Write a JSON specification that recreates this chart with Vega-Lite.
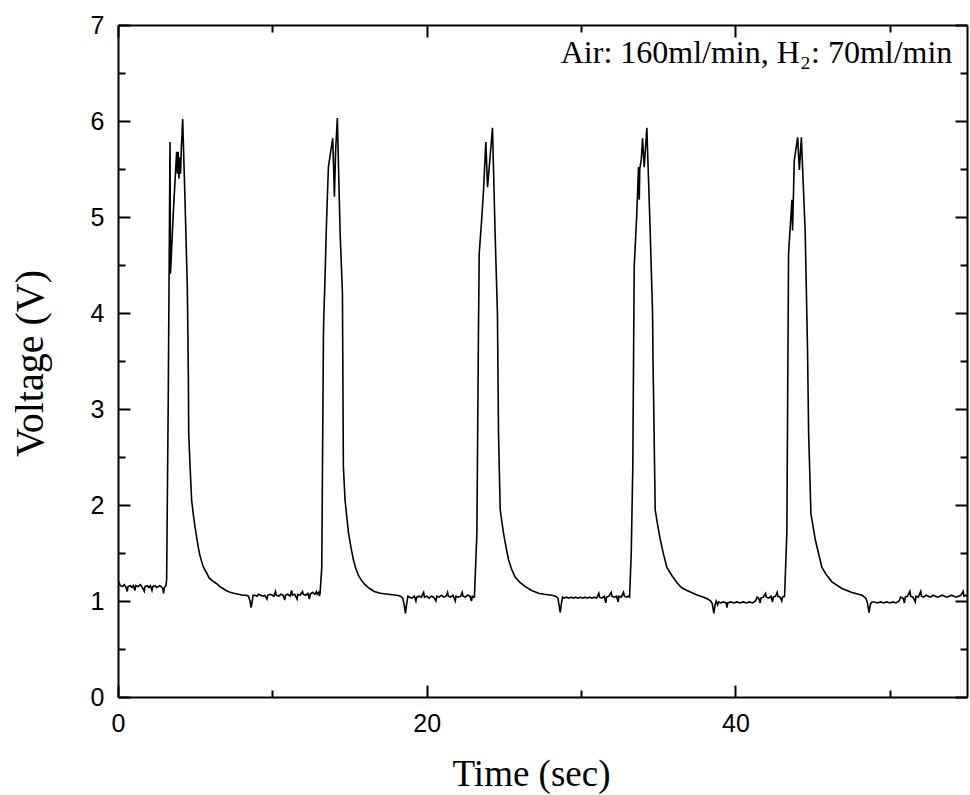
{
  "$schema": "https://vega.github.io/schema/vega-lite/v6.json",
  "autosize": "none",
  "width": 849,
  "height": 672,
  "padding": {"left": 118, "top": 25, "right": 3, "bottom": 98},
  "background": "white",
  "config": {"view": {"stroke": null}},
  "resolve": {"axis": {"x": "independent", "y": "independent"}},
  "datasets": {
    "note": [{"t": 54.05, "v": 6.6, "label": "Air: 160ml/min, H₂: 70ml/min"}]
  },
  "layer": [
    {
      "data": {"values": [
        {"t":0,"v":1.21},{"t":0.05,"v":1.2},{"t":0.15,"v":1.16},{"t":0.3,"v":1.15},{"t":0.4,"v":1.17},{"t":0.5,"v":1.15},{"t":0.6,"v":1.1},{"t":0.65,"v":1.15},{"t":0.8,"v":1.16},{"t":0.9,"v":1.14},{"t":1.0,"v":1.16},{"t":1.1,"v":1.11},{"t":1.15,"v":1.16},{"t":1.3,"v":1.15},{"t":1.45,"v":1.17},{"t":1.55,"v":1.15},{"t":1.7,"v":1.1},{"t":1.75,"v":1.15},{"t":1.9,"v":1.16},{"t":2.0,"v":1.14},{"t":2.1,"v":1.16},{"t":2.2,"v":1.11},{"t":2.25,"v":1.15},{"t":2.4,"v":1.16},{"t":2.5,"v":1.14},{"t":2.6,"v":1.15},{"t":2.7,"v":1.16},{"t":2.8,"v":1.15},{"t":2.9,"v":1.13},{"t":2.95,"v":1.08},{"t":3.0,"v":1.14},{"t":3.1,"v":1.16},
        {"t":3.15,"v":1.22},{"t":3.25,"v":3.0},{"t":3.37,"v":5.78},{"t":3.4,"v":4.41},{"t":3.6,"v":5.1},{"t":3.8,"v":5.68},{"t":3.85,"v":5.45},{"t":3.9,"v":5.68},{"t":3.95,"v":5.4},{"t":4.0,"v":5.62},{"t":4.05,"v":5.45},{"t":4.1,"v":5.7},{"t":4.19,"v":6.02},{"t":4.34,"v":5.18},{"t":4.49,"v":4.27},{"t":4.52,"v":3.9},{"t":4.56,"v":3.3},{"t":4.58,"v":2.75},{"t":4.67,"v":2.4},{"t":4.77,"v":2.05},{"t":4.88,"v":1.9},{"t":4.99,"v":1.77},{"t":5.1,"v":1.66},{"t":5.2,"v":1.56},{"t":5.3,"v":1.48},{"t":5.42,"v":1.41},{"t":5.52,"v":1.36},{"t":5.64,"v":1.32},{"t":5.75,"v":1.29},{"t":5.9,"v":1.24},{"t":6.05,"v":1.22},{"t":6.2,"v":1.2},{"t":6.4,"v":1.18},{"t":6.6,"v":1.15},{"t":6.8,"v":1.13},{"t":7.0,"v":1.11},{"t":7.26,"v":1.09},{"t":7.5,"v":1.08},{"t":7.8,"v":1.07},{"t":8.1,"v":1.06},{"t":8.3,"v":1.06},{"t":8.45,"v":1.05},{"t":8.55,"v":1.0},{"t":8.62,"v":0.93},{"t":8.7,"v":1.0},{"t":8.75,"v":1.06},
        {"t":8.85,"v":1.06},{"t":9.0,"v":1.05},{"t":9.1,"v":1.07},{"t":9.25,"v":1.06},{"t":9.4,"v":1.05},{"t":9.5,"v":1.06},{"t":9.65,"v":1.02},{"t":9.7,"v":1.06},{"t":9.85,"v":1.07},{"t":10.0,"v":1.06},{"t":10.1,"v":1.05},{"t":10.2,"v":1.1},{"t":10.25,"v":1.06},{"t":10.4,"v":1.05},{"t":10.55,"v":1.07},{"t":10.7,"v":1.06},{"t":10.8,"v":1.01},{"t":10.85,"v":1.06},{"t":11.0,"v":1.07},{"t":11.15,"v":1.05},{"t":11.25,"v":1.11},{"t":11.3,"v":1.06},{"t":11.45,"v":1.07},{"t":11.6,"v":1.02},{"t":11.65,"v":1.07},{"t":11.8,"v":1.06},{"t":11.95,"v":1.1},{"t":12.0,"v":1.07},{"t":12.15,"v":1.06},{"t":12.3,"v":1.08},{"t":12.4,"v":1.02},{"t":12.45,"v":1.07},{"t":12.6,"v":1.09},{"t":12.75,"v":1.07},{"t":12.85,"v":1.1},{"t":12.9,"v":1.07},{"t":13.0,"v":1.09},{"t":13.05,"v":1.05},
        {"t":13.09,"v":1.08},{"t":13.2,"v":1.35},{"t":13.31,"v":3.79},{"t":13.33,"v":3.95},{"t":13.4,"v":4.3},{"t":13.5,"v":4.9},{"t":13.63,"v":5.52},{"t":13.75,"v":5.65},{"t":13.91,"v":5.82},{"t":13.97,"v":5.5},{"t":14.02,"v":5.21},{"t":14.1,"v":5.7},{"t":14.21,"v":6.03},{"t":14.39,"v":4.83},{"t":14.54,"v":4.21},{"t":14.56,"v":3.6},{"t":14.6,"v":2.4},{"t":14.71,"v":2.05},{"t":14.82,"v":1.88},{"t":14.93,"v":1.71},{"t":15.1,"v":1.55},{"t":15.25,"v":1.43},{"t":15.4,"v":1.34},{"t":15.57,"v":1.27},{"t":15.75,"v":1.22},{"t":16.0,"v":1.17},{"t":16.3,"v":1.13},{"t":16.6,"v":1.1},{"t":17.0,"v":1.08},{"t":17.5,"v":1.07},{"t":18.06,"v":1.06},{"t":18.3,"v":1.05},{"t":18.45,"v":1.03},{"t":18.55,"v":0.95},{"t":18.62,"v":0.87},{"t":18.7,"v":0.97},{"t":18.78,"v":1.05},
        {"t":18.9,"v":1.04},{"t":19.05,"v":1.03},{"t":19.2,"v":1.05},{"t":19.3,"v":1.0},{"t":19.35,"v":1.04},{"t":19.5,"v":1.05},{"t":19.65,"v":1.04},{"t":19.8,"v":1.09},{"t":19.85,"v":1.04},{"t":20.0,"v":1.05},{"t":20.15,"v":1.03},{"t":20.3,"v":1.05},{"t":20.45,"v":1.04},{"t":20.6,"v":1.0},{"t":20.65,"v":1.05},{"t":20.8,"v":1.04},{"t":20.95,"v":1.06},{"t":21.1,"v":1.04},{"t":21.25,"v":1.05},{"t":21.35,"v":1.09},{"t":21.4,"v":1.05},{"t":21.55,"v":1.04},{"t":21.7,"v":1.06},{"t":21.85,"v":1.0},{"t":21.9,"v":1.05},{"t":22.05,"v":1.04},{"t":22.2,"v":1.05},{"t":22.3,"v":1.09},{"t":22.35,"v":1.05},{"t":22.5,"v":1.04},{"t":22.65,"v":1.06},{"t":22.8,"v":1.05},{"t":22.9,"v":1.0},{"t":22.95,"v":1.05},{"t":23.05,"v":1.04},
        {"t":23.09,"v":1.04},{"t":23.25,"v":1.71},{"t":23.35,"v":3.79},{"t":23.4,"v":4.62},{"t":23.55,"v":4.95},{"t":23.68,"v":5.28},{"t":23.83,"v":5.78},{"t":23.94,"v":5.31},{"t":24.05,"v":5.52},{"t":24.26,"v":5.93},{"t":24.43,"v":4.83},{"t":24.58,"v":4.0},{"t":24.62,"v":3.3},{"t":24.65,"v":2.75},{"t":24.76,"v":1.95},{"t":24.97,"v":1.71},{"t":25.15,"v":1.55},{"t":25.3,"v":1.43},{"t":25.5,"v":1.33},{"t":25.73,"v":1.25},{"t":26.0,"v":1.2},{"t":26.38,"v":1.15},{"t":26.8,"v":1.11},{"t":27.24,"v":1.08},{"t":27.6,"v":1.07},{"t":28.1,"v":1.06},{"t":28.35,"v":1.05},{"t":28.5,"v":1.03},{"t":28.58,"v":0.95},{"t":28.65,"v":0.88},{"t":28.72,"v":0.97},{"t":28.8,"v":1.04},
        {"t":28.9,"v":1.03},{"t":29.05,"v":1.04},{"t":29.2,"v":1.03},{"t":29.35,"v":1.04},{"t":29.5,"v":1.03},{"t":29.65,"v":1.04},{"t":29.8,"v":1.03},{"t":29.95,"v":1.04},{"t":30.1,"v":1.03},{"t":30.25,"v":1.04},{"t":30.4,"v":1.03},{"t":30.55,"v":1.04},{"t":30.7,"v":1.03},{"t":30.85,"v":1.04},{"t":31.0,"v":1.03},{"t":31.15,"v":1.08},{"t":31.2,"v":1.04},{"t":31.35,"v":1.03},{"t":31.5,"v":1.05},{"t":31.6,"v":0.98},{"t":31.65,"v":1.04},{"t":31.8,"v":1.05},{"t":31.95,"v":1.09},{"t":32.0,"v":1.05},{"t":32.15,"v":1.04},{"t":32.3,"v":1.05},{"t":32.4,"v":0.99},{"t":32.45,"v":1.05},{"t":32.6,"v":1.04},{"t":32.75,"v":1.09},{"t":32.8,"v":1.05},{"t":32.95,"v":1.04},{"t":33.05,"v":1.05},
        {"t":33.14,"v":1.04},{"t":33.25,"v":1.5},{"t":33.35,"v":2.4},{"t":33.44,"v":4.48},{"t":33.6,"v":5.0},{"t":33.72,"v":5.52},{"t":33.77,"v":5.18},{"t":33.8,"v":5.5},{"t":33.9,"v":5.6},{"t":33.98,"v":5.82},{"t":34.09,"v":5.52},{"t":34.26,"v":5.93},{"t":34.48,"v":4.83},{"t":34.63,"v":4.0},{"t":34.66,"v":3.5},{"t":34.7,"v":3.09},{"t":34.8,"v":1.95},{"t":34.95,"v":1.8},{"t":35.13,"v":1.64},{"t":35.35,"v":1.48},{"t":35.56,"v":1.35},{"t":35.9,"v":1.26},{"t":36.21,"v":1.19},{"t":36.5,"v":1.14},{"t":36.86,"v":1.11},{"t":37.4,"v":1.07},{"t":37.93,"v":1.04},{"t":38.2,"v":1.02},{"t":38.4,"v":1.0},{"t":38.5,"v":0.97},{"t":38.6,"v":0.87},{"t":38.68,"v":0.96},{"t":38.75,"v":1.0},{"t":38.85,"v":0.96},{"t":38.9,"v":0.99},
        {"t":39.05,"v":0.98},{"t":39.2,"v":0.99},{"t":39.4,"v":0.98},{"t":39.45,"v":0.93},{"t":39.5,"v":0.98},{"t":39.7,"v":0.99},{"t":39.9,"v":0.98},{"t":40.1,"v":0.99},{"t":40.3,"v":0.98},{"t":40.5,"v":0.99},{"t":40.7,"v":0.98},{"t":40.9,"v":0.99},{"t":41.1,"v":0.98},{"t":41.3,"v":1.0},{"t":41.4,"v":1.04},{"t":41.5,"v":1.03},{"t":41.6,"v":0.98},{"t":41.65,"v":1.03},{"t":41.8,"v":1.04},{"t":41.95,"v":1.08},{"t":42.0,"v":1.04},{"t":42.15,"v":1.03},{"t":42.3,"v":1.05},{"t":42.4,"v":0.99},{"t":42.45,"v":1.04},{"t":42.6,"v":1.05},{"t":42.7,"v":1.09},{"t":42.75,"v":1.05},{"t":42.9,"v":1.04},{"t":43.0,"v":1.0},{"t":43.05,"v":1.04},{"t":43.15,"v":1.05},
        {"t":43.18,"v":1.04},{"t":43.33,"v":1.71},{"t":43.44,"v":4.62},{"t":43.55,"v":4.9},{"t":43.66,"v":5.18},{"t":43.7,"v":4.86},{"t":43.81,"v":5.59},{"t":44.03,"v":5.83},{"t":44.14,"v":5.49},{"t":44.27,"v":5.83},{"t":44.52,"v":4.83},{"t":44.67,"v":3.61},{"t":44.74,"v":2.75},{"t":44.89,"v":1.91},{"t":45.17,"v":1.64},{"t":45.6,"v":1.35},{"t":45.9,"v":1.27},{"t":46.25,"v":1.2},{"t":46.9,"v":1.13},{"t":47.5,"v":1.09},{"t":48.2,"v":1.06},{"t":48.45,"v":1.03},{"t":48.55,"v":0.98},{"t":48.65,"v":0.88},{"t":48.75,"v":0.97},{"t":48.85,"v":0.99},
        {"t":49.0,"v":0.99},{"t":49.2,"v":0.98},{"t":49.4,"v":0.99},{"t":49.6,"v":0.98},{"t":49.8,"v":0.99},{"t":50.0,"v":0.98},{"t":50.2,"v":0.99},{"t":50.4,"v":0.98},{"t":50.6,"v":1.0},{"t":50.7,"v":1.04},{"t":50.85,"v":1.03},{"t":50.95,"v":0.98},{"t":51.0,"v":1.04},{"t":51.15,"v":1.05},{"t":51.3,"v":1.1},{"t":51.35,"v":1.05},{"t":51.5,"v":1.04},{"t":51.65,"v":0.99},{"t":51.7,"v":1.05},{"t":51.85,"v":1.04},{"t":52.0,"v":1.1},{"t":52.05,"v":1.05},{"t":52.2,"v":1.04},{"t":52.35,"v":1.06},{"t":52.5,"v":1.05},{"t":52.65,"v":1.04},{"t":52.8,"v":1.06},{"t":52.95,"v":1.05},{"t":53.1,"v":1.04},{"t":53.25,"v":1.05},{"t":53.4,"v":1.06},{"t":53.55,"v":1.05},{"t":53.7,"v":1.04},{"t":53.85,"v":1.05},{"t":54.0,"v":1.06},{"t":54.15,"v":1.05},{"t":54.3,"v":1.04},{"t":54.45,"v":1.05},{"t":54.6,"v":1.06},{"t":54.75,"v":1.1},{"t":54.8,"v":1.05},{"t":54.9,"v":1.06},{"t":55.0,"v":1.05}
      ]},
      "mark": {"type": "line", "color": "black", "strokeWidth": 1.6, "clip": true},
      "encoding": {
        "x": {"field": "t", "type": "quantitative",
          "scale": {"domain": [0, 55], "nice": false, "zero": false},
          "axis": {"orient": "bottom", "title": "Time (sec)", "values": [0, 20, 40], "format": "d", "grid": false, "labelFlush": false,
            "tickSize": -12, "tickWidth": 2, "tickColor": "black", "domainColor": "black", "domainWidth": 2,
            "labelFont": "Liberation Sans", "labelFontSize": 25, "labelColor": "black", "labelPadding": 26,
            "titleFont": "Liberation Serif", "titleFontSize": 37, "titleFontWeight": "normal", "titleColor": "black",
            "titleX": 413, "titleY": 88, "titleBaseline": "alphabetic", "titleAlign": "center"}},
        "y": {"field": "v", "type": "quantitative",
          "scale": {"domain": [0, 7], "nice": false, "zero": false},
          "axis": {"orient": "left", "title": "Voltage (V)", "values": [0, 1, 2, 3, 4, 5, 6, 7], "format": "d", "grid": false, "labelFlush": false,
            "tickSize": -12, "tickWidth": 2, "tickColor": "black", "domainColor": "black", "domainWidth": 2,
            "labelFont": "Liberation Sans", "labelFontSize": 25, "labelColor": "black", "labelPadding": 26,
            "titleFont": "Liberation Serif", "titleFontSize": 40, "titleFontWeight": "normal", "titleColor": "black",
            "titleX": -76, "titleY": 338, "titleAngle": 270, "titleBaseline": "alphabetic", "titleAlign": "center"}}
      }
    },
    {
      "data": {"name": "note"},
      "mark": {"type": "text", "align": "right", "baseline": "alphabetic", "font": "Liberation Serif", "fontSize": 32, "color": "black"},
      "encoding": {
        "x": {"field": "t", "type": "quantitative",
          "axis": {"orient": "top", "title": null, "labels": false, "values": [0, 20, 40], "grid": false,
            "tickSize": -12, "tickWidth": 2, "tickColor": "black", "domainColor": "black", "domainWidth": 2}},
        "y": {"field": "v", "type": "quantitative",
          "axis": {"orient": "right", "title": null, "labels": false, "values": [0, 1, 2, 3, 4, 5, 6, 7], "grid": false,
            "tickSize": -12, "tickWidth": 2, "tickColor": "black", "domainColor": "black", "domainWidth": 2}},
        "text": {"field": "label"}
      }
    },
    {
      "data": {"name": "note"},
      "mark": {"type": "point", "opacity": 0},
      "encoding": {
        "x": {"field": "t", "type": "quantitative",
          "axis": {"orient": "bottom", "title": null, "labels": false, "values": [10, 30, 50], "grid": false, "domain": false,
            "tickSize": -7, "tickWidth": 2, "tickColor": "black"}},
        "y": {"field": "v", "type": "quantitative",
          "axis": {"orient": "left", "title": null, "labels": false, "values": [0.5, 1.5, 2.5, 3.5, 4.5, 5.5, 6.5], "grid": false, "domain": false,
            "tickSize": -7, "tickWidth": 2, "tickColor": "black"}}
      }
    },
    {
      "data": {"name": "note"},
      "mark": {"type": "point", "opacity": 0},
      "encoding": {
        "x": {"field": "t", "type": "quantitative",
          "axis": {"orient": "top", "title": null, "labels": false, "values": [10, 30, 50], "grid": false, "domain": false,
            "tickSize": -7, "tickWidth": 2, "tickColor": "black"}},
        "y": {"field": "v", "type": "quantitative",
          "axis": {"orient": "right", "title": null, "labels": false, "values": [0.5, 1.5, 2.5, 3.5, 4.5, 5.5, 6.5], "grid": false, "domain": false,
            "tickSize": -7, "tickWidth": 2, "tickColor": "black"}}
      }
    }
  ]
}
